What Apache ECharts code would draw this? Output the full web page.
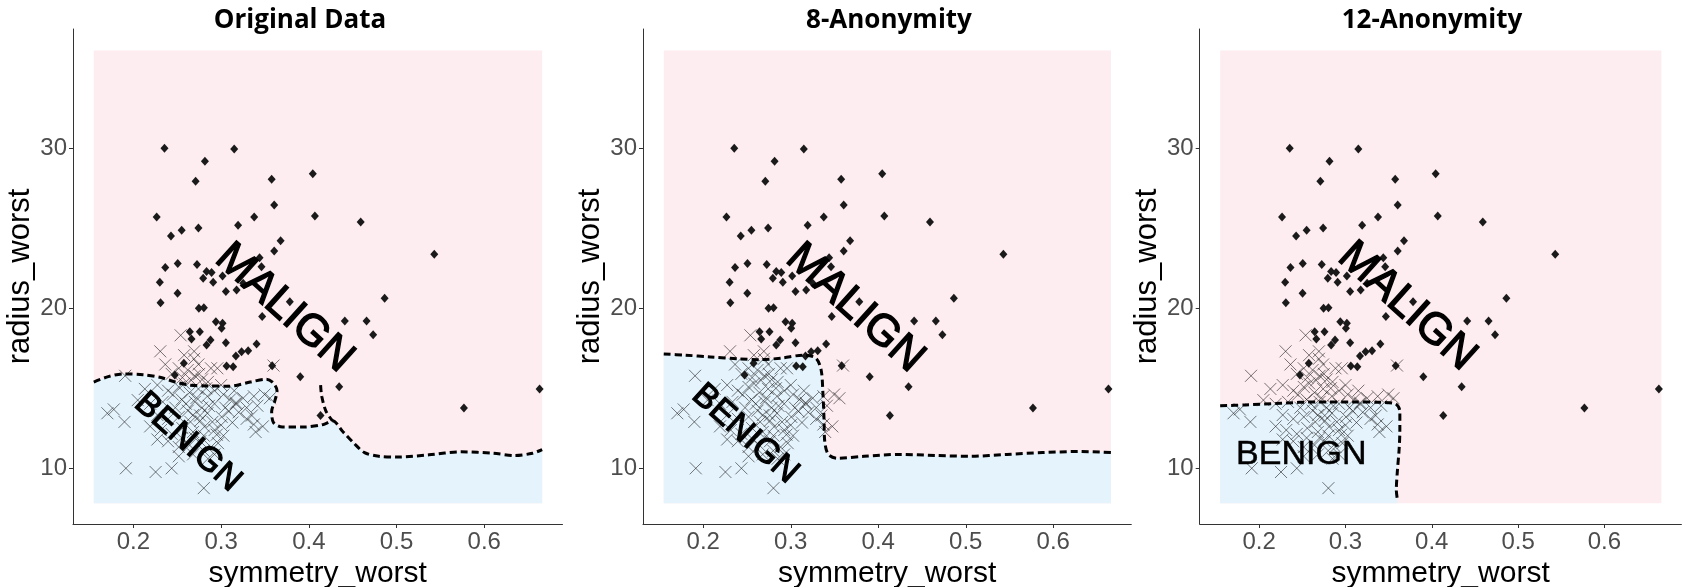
<!DOCTYPE html>
<html>
<head>
<meta charset="utf-8">
<script src="https://cdn.jsdelivr.net/npm/echarts@6/dist/echarts.min.js"></script>
<style>
html,body{margin:0;padding:0;background:#fff}
#chart{width:1685px;height:587px}
</style>
</head>
<body>
<div id="chart"></div>
<script>
// axes
var xTicks = [0.2, 0.3, 0.4, 0.5, 0.6];
var yTicks = [10, 20, 30];
var xRange = [0.1311, 0.6892];
var yRange = [6.52, 37.45];
// extent of the prediction grid
var regionX = [0.1548, 0.666];
var regionY = [7.82, 36.11];
var panelTitles = ['Original Data', '8-Anonymity', '12-Anonymity'];

// malignant cases (diamonds)
var malignPts = [
  [0.2354,30.0],[0.3149,29.95],[0.2815,29.18],[0.2709,27.94],[0.3576,28.06],[0.4045,28.41],
  [0.3605,26.46],[0.2265,25.71],[0.3377,25.71],[0.4069,25.76],[0.4591,25.39],[0.3193,25.18],
  [0.2741,25.01],[0.2550,24.87],[0.2428,24.52],[0.3678,24.22],[0.3605,23.58],[0.5430,23.37],
  [0.3438,23.16],[0.3460,22.6],[0.2505,22.79],[0.2363,22.55],[0.2725,22.74],[0.2834,22.29],
  [0.2891,22.23],[0.3016,22.02],[0.2301,21.62],[0.2795,21.88],[0.2909,21.63],[0.3251,21.57],
  [0.3176,21.14],[0.3054,21.04],[0.2503,20.94],[0.2309,20.35],[0.4864,20.63],[0.2746,20.0],
  [0.2803,20.04],[0.3783,20.41],[0.2940,19.16],[0.3016,19.06],[0.3005,18.75],[0.3468,19.48],
  [0.4410,19.2],[0.4658,19.2],[0.4733,18.35],[0.2643,18.54],[0.2757,18.54],[0.2662,18.08],
  [0.2879,18.02],[0.2834,17.71],[0.3054,17.85],[0.3404,17.77],[0.3308,17.35],[0.3233,17.29],
  [0.3168,17.02],[0.3062,16.39],[0.3137,16.35],[0.2575,16.56],[0.2472,15.83],[0.3582,16.41],
  [0.3902,15.72],[0.4346,15.1],[0.4133,13.3],[0.5768,13.77],[0.6631,14.96]
];

// benign cases (crosses)
var benignPts = [
  [0.2538,18.31],[0.2306,17.31],[0.2692,17.31],[0.2363,16.49],[0.2578,17.07],[0.2692,16.84],
  [0.2517,16.25],[0.2619,16.14],[0.2741,16.49],[0.2884,16.25],[0.2957,16.25],[0.3597,16.42],
  [0.1906,15.78],[0.2436,15.90],[0.2558,15.67],[0.2700,15.78],[0.2782,15.55],[0.2130,14.96],
  [0.2273,15.20],[0.2395,14.85],[0.2517,15.08],[0.2640,14.73],[0.2741,14.96],[0.2843,14.50],
  [0.2925,14.85],[0.3026,14.61],[0.3149,14.85],[0.3251,14.38],[0.3373,14.50],[0.3495,14.61],
  [0.3556,14.38],[0.2049,14.26],[0.2191,14.03],[0.2334,14.15],[0.2477,13.79],[0.2599,14.03],
  [0.2700,14.15],[0.2782,13.79],[0.2925,14.03],[0.3047,13.79],[0.3169,14.03],[0.3291,13.79],
  [0.3413,13.91],[0.1703,13.44],[0.1776,13.68],[0.1898,12.90],[0.2273,13.33],[0.2395,13.09],
  [0.2517,13.21],[0.2680,13.33],[0.2762,12.97],[0.2843,13.44],[0.3006,13.21],[0.3088,13.56],
  [0.3128,12.86],[0.3291,13.09],[0.3373,12.74],[0.3475,12.62],[0.2191,12.62],[0.2314,12.39],
  [0.2436,12.15],[0.2558,12.51],[0.2680,12.27],[0.2802,12.04],[0.2925,12.39],[0.3026,12.04],
  [0.3393,12.27],[0.2273,11.80],[0.2395,11.69],[0.2517,11.33],[0.2640,11.45],[0.2762,11.69],
  [0.2884,11.33],[0.2965,11.57],[0.2517,10.75],[0.2680,10.87],[0.2925,10.87],[0.1914,10.00],
  [0.2253,9.77],[0.2436,10.00],[0.2802,8.76],
  [0.258,15.3],[0.266,15.5],[0.283,15.0],[0.272,14.4],[0.286,13.9],[0.262,13.6],[0.276,13.3],
  [0.281,12.6],[0.265,12.9],[0.290,12.9],[0.300,12.7],[0.255,14.3],[0.245,14.6],[0.310,14.3],
  [0.320,13.5],[0.335,13.3],[0.275,15.9],[0.285,15.4],[0.300,15.2],[0.317,14.1],[0.280,11.1],
  [0.270,11.9],[0.255,11.9],[0.295,12.1],[0.285,10.6]
];

// decision boundaries
var boundaryOrig = [
  [0.1548,15.39],[0.1703,15.71],[0.1886,15.90],[0.2110,15.85],[0.2314,15.67],[0.2477,15.39],
  [0.2640,15.20],[0.2843,15.15],[0.3088,15.13],[0.3332,15.39],[0.3515,15.57],[0.3597,15.32],
  [0.3637,14.85],[0.3609,14.15],[0.3576,13.56],[0.3597,12.86],[0.3699,12.58],[0.3943,12.58],
  [0.4167,12.74],[0.4269,12.97],[0.4391,12.27],[0.4513,11.57],[0.4635,10.98],[0.4798,10.75],
  [0.5002,10.70],[0.5369,10.84],[0.5735,11.03],[0.6102,10.94],[0.6346,10.80],[0.6550,10.94],
  [0.6660,11.17]
];
var boundaryOrigStub = [[0.4134,15.20],[0.4147,14.50],[0.4196,13.56],[0.4269,12.97]];
var boundaryK8 = [
  [0.1548,17.14],[0.1796,17.07],[0.2082,16.96],[0.2408,16.84],[0.2653,16.79],[0.2898,16.89],
  [0.3143,17.07],[0.3286,16.89],[0.3347,16.14],[0.3367,14.73],[0.3380,13.09],[0.3388,11.69],
  [0.3429,10.87],[0.3531,10.63],[0.3837,10.75],[0.4245,10.87],[0.4653,10.80],[0.5061,10.75],
  [0.5469,10.87],[0.5878,10.98],[0.6286,11.05],[0.6660,10.98]
];
var boundaryK12 = [
  [0.1548,13.91],[0.1843,13.96],[0.2256,14.07],[0.2670,14.15],[0.3084,14.15],[0.3415,14.12],
  [0.3580,14.03],[0.3630,13.56],[0.3630,12.39],[0.3622,11.22],[0.3601,9.81],[0.3589,8.64],
  [0.3601,8.06]
];

// region labels [x, y, text]
var malignLabels = [[0.3719,20.0,'MALIGN'],[0.3735,20.0,'MALIGN'],[0.3713,20.1,'MALIGN']];
var benignLabels = [[0.2619,11.64,'BENIGN'],[0.2478,12.15,'BENIGN'],[0.2488,10.87,'BENIGN']];

var panels = [
  {left:73, width:489.5, titleX:295, boundary:boundaryOrig},
  {left:643, width:488.3, titleX:884, boundary:boundaryK8},
  {left:1199.7, width:481.7, titleX:1427, boundary:boundaryK12}
];

function blueRegion(line){
  var pts = [[regionX[0], regionY[0]]];
  line.forEach(function(p){ pts.push(p); });
  var last = line[line.length-1];
  pts.push([last[0], regionY[0]]);
  return pts;
}
function polySeries(i, pts, color){
  return {
    type:'custom', xAxisIndex:i, yAxisIndex:i, silent:true, z:1,
    data:[[regionX[0], regionY[0]]],
    renderItem:function(params, api){
      return {type:'polygon', shape:{points:pts.map(function(p){ return api.coord(p); })},
              style:{fill:color}};
    }
  };
}
var pinkRect = [[regionX[0],regionY[0]],[regionX[0],regionY[1]],[regionX[1],regionY[1]],[regionX[1],regionY[0]]];

var grids=[], xAxes=[], yAxes=[], titles=[], series=[];
var axisFont = 'Liberation Sans, Arial, sans-serif';
panels.forEach(function(p, i){
  grids.push({left:p.left, top:29, width:p.width, height:495, containLabel:false, outerBoundsMode:'none'});
  titles.push({text:panelTitles[i], left:p.titleX, top:3, textAlign:'center',
    textStyle:{fontFamily:'Open Sans', fontWeight:'bold', fontSize:26, color:'#000'}});
  xAxes.push({gridIndex:i, type:'value', min:xRange[0], max:xRange[1],
    name:'symmetry_worst', nameLocation:'middle', nameGap:22,
    nameTextStyle:{fontSize:30, color:'#000', fontFamily:axisFont, lineHeight:30},
    axisLine:{show:true, onZero:false, lineStyle:{color:'#333', width:1}},
    axisTick:{show:true, length:4, customValues:xTicks, lineStyle:{color:'#333'}},
    axisLabel:{customValues:xTicks, fontSize:24, color:'#4d4d4d', margin:6, fontFamily:axisFont},
    splitLine:{show:false}});
  yAxes.push({gridIndex:i, type:'value', min:yRange[0], max:yRange[1],
    name:'radius_worst', nameLocation:'middle', nameGap:36,
    nameTextStyle:{fontSize:31, color:'#000', fontFamily:axisFont},
    axisLine:{show:true, onZero:false, lineStyle:{color:'#333', width:1}},
    axisTick:{show:true, length:4, customValues:yTicks, lineStyle:{color:'#333'}},
    axisLabel:{customValues:yTicks, fontSize:24, color:'#4d4d4d', margin:6, fontFamily:axisFont},
    splitLine:{show:false}});

  series.push(polySeries(i, pinkRect, '#fdecf0'));
  series.push(polySeries(i, blueRegion(p.boundary), '#e4f3fc'));
  series.push({type:'scatter', xAxisIndex:i, yAxisIndex:i, silent:true, z:3,
    symbol:'path://M0,0L10,10M10,0L0,10', symbolSize:12,
    itemStyle:{color:'transparent', borderColor:'rgba(30,30,30,0.6)', borderWidth:1, opacity:1},
    data:benignPts});
  series.push({type:'scatter', xAxisIndex:i, yAxisIndex:i, silent:true, z:4,
    symbol:'diamond', symbolSize:[8,9], itemStyle:{color:'#1a1a1a', opacity:1}, data:malignPts});
  series.push({type:'line', xAxisIndex:i, yAxisIndex:i, silent:true, z:5, showSymbol:false,
    smooth:0.3, lineStyle:{color:'#000', width:3, type:[7,4]}, data:p.boundary});
  if(i === 0){
    series.push({type:'line', xAxisIndex:i, yAxisIndex:i, silent:true, z:5, showSymbol:false,
      smooth:0.3, lineStyle:{color:'#000', width:3, type:[7,4]}, data:boundaryOrigStub});
  }
  series.push({type:'scatter', xAxisIndex:i, yAxisIndex:i, silent:true, z:6,
    symbolSize:0, itemStyle:{color:'transparent', opacity:1},
    label:{show:true, position:'inside', formatter:function(d){ return d.value[2]; },
      rotate:-42, fontSize:44, color:'#000', opacity:1, textBorderColor:'#000', textBorderWidth:1.4,
      fontFamily:axisFont},
    data:[malignLabels[i]]});
  series.push({type:'scatter', xAxisIndex:i, yAxisIndex:i, silent:true, z:6,
    symbolSize:0, itemStyle:{color:'transparent', opacity:1},
    label:{show:true, position:'inside', formatter:function(d){ return d.value[2]; },
      rotate:(i === 2 ? 0 : -42), fontSize:34, color:'#000', opacity:1,
      textBorderColor:'#000', textBorderWidth:(i === 2 ? 0.5 : 1.2),
      fontFamily:(i === 2 ? 'Liberation Sans Narrow, Liberation Sans, sans-serif' : axisFont)},
    data:[benignLabels[i]]});
});

var chart = echarts.init(document.getElementById('chart'));
chart.setOption({
  animation:false,
  backgroundColor:'#fff',
  title:titles,
  grid:grids,
  xAxis:xAxes,
  yAxis:yAxes,
  series:series
});
</script>
</body>
</html>
